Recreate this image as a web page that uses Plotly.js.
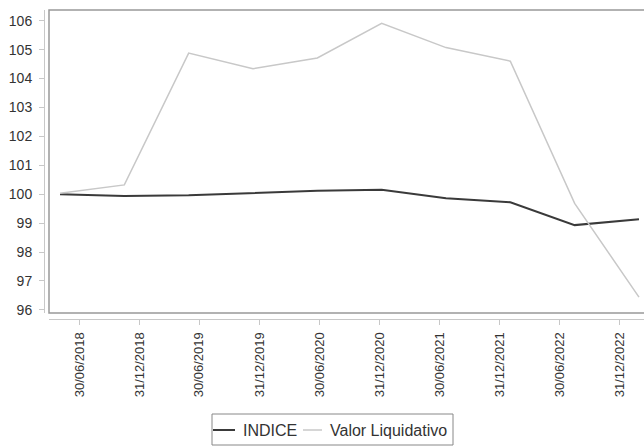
<!DOCTYPE html>
<html><head><meta charset="utf-8">
<script src="https://cdn.plot.ly/plotly-3.0.1.min.js"></script>
<style>html,body{margin:0;padding:0;background:#fff}#chart{width:644px;height:446px}</style>
</head><body><div id="chart"></div>
<script>
const tickLabels = ["30/06/2018","31/12/2018","30/06/2019","31/12/2019","30/06/2020","31/12/2020","30/06/2021","31/12/2021","30/06/2022","31/12/2022"];
const tickPositions = [0.300,1.233,2.165,3.098,4.031,4.964,5.896,6.829,7.762,8.694];
const pointIndex = [0,1,2,3,4,5,6,7,8,9];
const seriesNames = ["INDICE", "Valor Liquidativo"];
const indice = [100.00,99.94,99.96,100.03,100.12,100.15,99.86,99.72,98.93,99.13];
const valorLiquidativo = [100.03,100.32,104.88,104.34,104.71,105.91,105.07,104.60,99.68,96.44];

const W = 644, H = 446;
const FONT = "Liberation Sans Narrow, Arial Narrow, Liberation Sans, Arial, sans-serif";
const frameL = 49/W, frameB = 1-313/H, frameT = 1-10/H;
const colors = ['#3a3a3a', '#c8c8c8'];
const widths = [2, 1.5];
const px = v => v/W, py = v => 1 - v/H;

const traces = [
  {x: pointIndex, y: indice, type: 'scatter', mode: 'lines', name: seriesNames[0],
   line: {color: colors[0], width: widths[0]}},
  {x: pointIndex, y: valorLiquidativo, type: 'scatter', mode: 'lines', name: seriesNames[1],
   line: {color: colors[1], width: widths[1]}}
];

// custom legend box (layout only)
const legY = py(430);
const legItems = [{s0: 213, s1: 235, t: 241}, {s0: 303, s1: 322, t: 328}];
const shapes = [
  {type: 'rect', xref: 'paper', yref: 'paper', x0: frameL, x1: 1.01, y0: frameB, y1: frameT,
   line: {color: '#999', width: 1.5}, fillcolor: 'rgba(0,0,0,0)', layer: 'above'},
  {type: 'rect', xref: 'paper', yref: 'paper', x0: px(212), x1: px(453), y0: py(445), y1: py(414),
   line: {color: '#888', width: 1}, fillcolor: 'rgba(0,0,0,0)'}
];
const annotations = [];
legItems.forEach((it, i) => {
  shapes.push({type: 'line', xref: 'paper', yref: 'paper', x0: px(it.s0), x1: px(it.s1), y0: legY, y1: legY,
    line: {color: colors[i], width: widths[i]}});
  annotations.push({xref: 'paper', yref: 'paper', x: px(it.t), y: legY, xanchor: 'left', yanchor: 'middle',
    text: seriesNames[i], showarrow: false, font: {family: FONT, size: 16, color: '#333'}});
});

const layout = {
  width: W, height: H,
  margin: {l: 0, r: 0, t: 0, b: 0},
  paper_bgcolor: '#fff', plot_bgcolor: '#fff',
  font: {family: FONT, color: '#333', size: 13},
  showlegend: false,
  xaxis: {
    domain: [frameL, 1], range: [-0.171, 9.078],
    anchor: 'free', position: 1-319/H,
    showline: true, linecolor: '#c8c8c8', linewidth: 1,
    ticks: 'outside', ticklen: 5, tickcolor: '#c8c8c8',
    tickvals: tickPositions, ticktext: tickLabels, tickangle: -90,
    tickfont: {family: FONT, size: 13, color: '#333'},
    ticklabelstandoff: 2,
    showgrid: false, zeroline: false, fixedrange: true
  },
  yaxis: {
    domain: [frameB, frameT], range: [95.89, 106.37],
    anchor: 'free', position: 44/W,
    showline: true, linecolor: '#c8c8c8', linewidth: 1,
    ticks: 'outside', ticklen: 5, tickcolor: '#c8c8c8',
    dtick: 1, tick0: 96,
    tickfont: {family: FONT, size: 14, color: '#333'},
    ticklabelstandoff: 4,
    showgrid: false, zeroline: false, fixedrange: true
  },
  shapes: shapes,
  annotations: annotations
};

Plotly.newPlot('chart', traces, layout, {displayModeBar: false, staticPlot: true});
</script>
</body></html>
